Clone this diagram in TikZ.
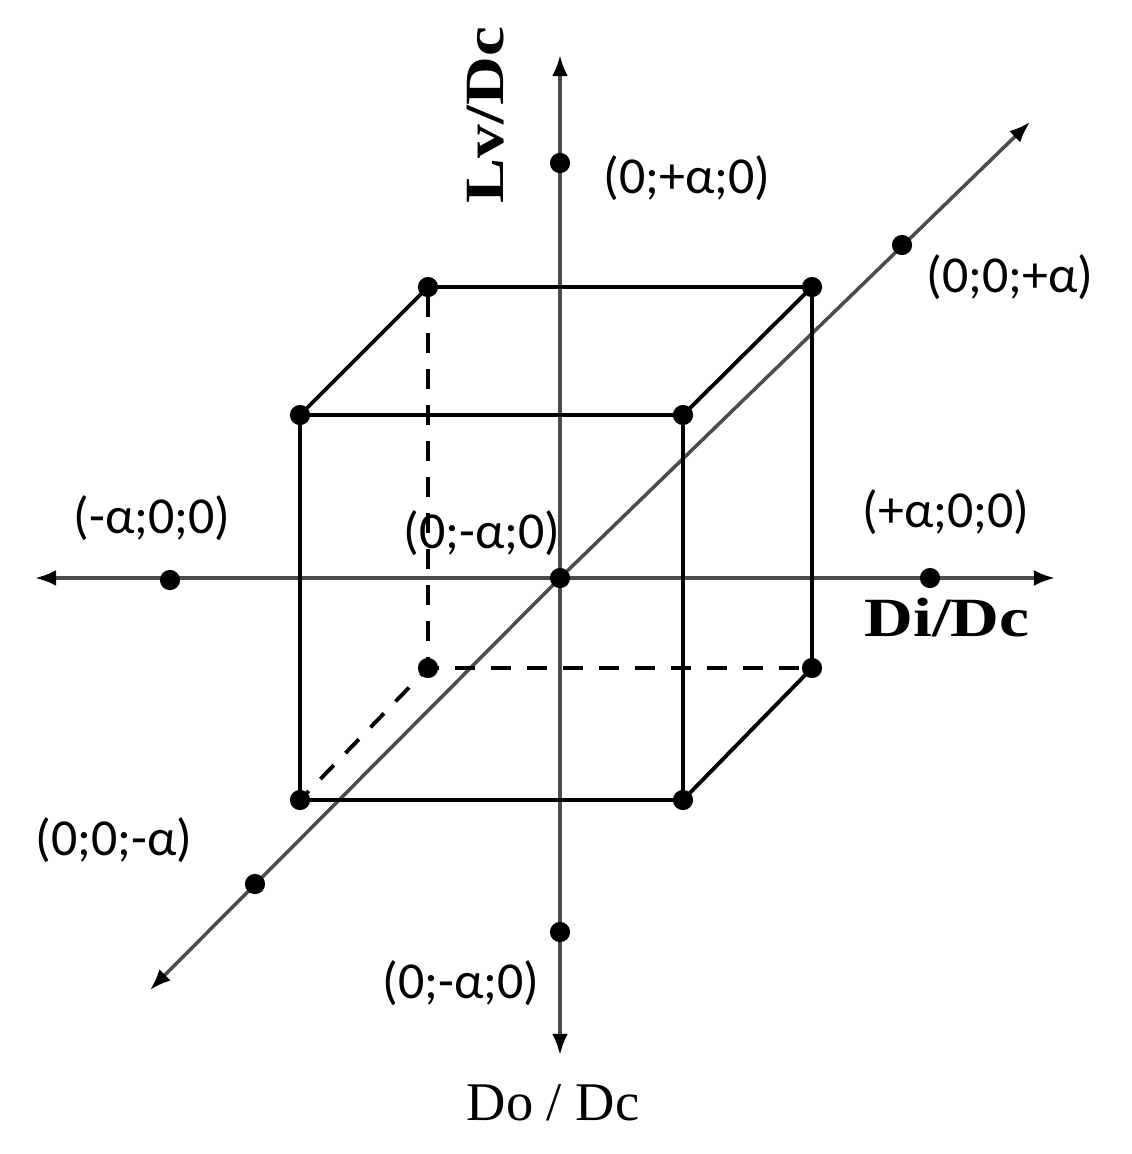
\documentclass[tikz,border=0pt]{standalone}
\usepackage{fontspec}
\setmainfont{Liberation Serif}
\newfontfamily\lblfont{Carlito}
\usetikzlibrary{arrows.meta}
\definecolor{axiscol}{gray}{0.3}
\tikzset{
  dot/.style={circle,fill=black,draw=none,inner sep=0pt,minimum size=11.5pt},
  axisline/.style={draw=axiscol,line width=2pt,-{Latex[length=12pt,width=9pt,fill=black,color=black]}},
  edge/.style={draw=black,line width=2.2pt},
  hidden/.style={draw=black,line width=2.2pt,dash pattern=on 11pt off 9.5pt,dash phase=5pt},
  coord/.style={font=\lblfont\fontsize{29.5}{31}\selectfont,inner sep=0pt},
  axlbl/.style={font=\fontsize{31.5}{33}\selectfont\bfseries,inner sep=0pt},
}
\begin{document}
\begin{tikzpicture}[x=0.02cm,y=-0.02cm]
\useasboundingbox (0,0) rectangle (1132,1154);
% axis ends
\coordinate (vtop) at (560,55);
\coordinate (vbot) at (560,1055);
\coordinate (hl) at (35,578);
\coordinate (hr) at (1055,578);
\coordinate (dtop) at (1030,122);
\coordinate (dbot) at (150,990);
\coordinate (o) at (560,578);
% axes
\draw[axisline] (o) -- (vtop);
\draw[axisline] (o) -- (vbot);
\draw[axisline] (o) -- (hl);
\draw[axisline] (o) -- (hr);
\draw[axisline] (o) -- (dtop);
\draw[axisline] (o) -- (dbot);
% cube corners
\node[dot] (f1) at (300,415) {};
\node[dot] (f2) at (683,415) {};
\node[dot] (f3) at (683,800) {};
\node[dot] (f4) at (300,800) {};
\node[dot] (b1) at (428,287) {};
\node[dot] (b2) at (812,287) {};
\node[dot] (b3) at (812,668) {};
\node[dot] (b4) at (428,668) {};
% cube edges
\draw[edge] (f1.center) -- (f2.center) -- (f3.center) -- (f4.center) -- cycle;
\draw[edge] (f1.center) -- (b1.center) -- (b2.center) -- (b3.center) -- (f3.center);
\draw[edge] (f2.center) -- (b2.center);
\draw[hidden] (b4.center) -- (b1.center);
\draw[hidden] (b4.center) -- (b3.center);
\draw[hidden] (b4.center) -- (f4.center);
% star points
\node[dot] (c0) at (o) {};
\node[dot] (py) at (560,163) {};
\node[dot] (my) at (560,932) {};
\node[dot] (mx) at (170,580) {};
\node[dot] (px) at (930,578) {};
\node[dot] (pz) at (902,245) {};
\node[dot] (mz) at (255,884) {};
% labels
\node[coord] (lpy) at (687,178) {(0;+α;0)};
\node[coord] (lpz) at (1010,277) {(0;0;+α)};
\node[coord] (lmx) at (152,518) {(-α;0;0)};
\node[coord] (lc) at (482,533) {(0;-α;0)};
\node[coord] (lpx) at (946,512) {(+α;0;0)};
\node[coord] (lmz) at (114,840) {(0;0;-α)};
\node[coord] (lmy) at (461,983) {(0;-α;0)};
\node[axlbl,xscale=1.22] (ldi) at (947,618) {Di/Dc};
\node[axlbl,rotate=90,xscale=1.22] (llv) at (486,115) {Lv/Dc};
\node[font=\fontsize{31}{33}\selectfont,inner sep=0pt] (ldo) at (553,1103) {Do / Dc};
\end{tikzpicture}
\end{document}
